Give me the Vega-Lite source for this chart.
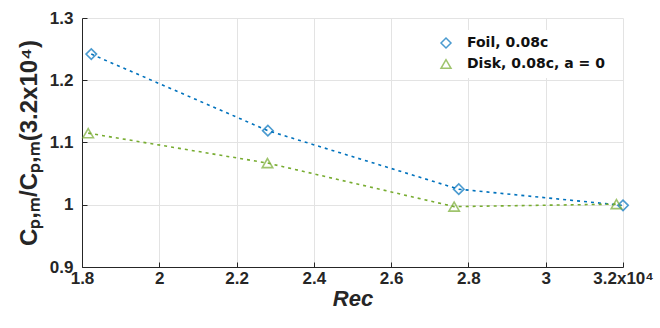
{
  "$schema": "https://vega.github.io/schema/vega-lite/v6.json",
  "width": 541,
  "height": 249,
  "padding": {"left": 17, "top": 9, "right": 0, "bottom": 0},
  "background": "white",
  "config": {
    "view": {"stroke": null},
    "axis": {
      "labelFont": "Liberation Sans",
      "labelFontWeight": "bold",
      "labelFontSize": 17,
      "labelColor": "#262626",
      "titleFont": "Liberation Sans",
      "titleColor": "#262626",
      "titleFontWeight": "bold",
      "titleFontSize": 24,
      "domainColor": "#262626",
      "tickColor": "#262626",
      "tickSize": -5,
      "gridColor": "#e3e3e3"
    }
  },
  "data": {
    "values": [
      {"series": "Foil, 0.08c", "re": 1.824, "cp": 1.242},
      {"series": "Foil, 0.08c", "re": 2.281, "cp": 1.119},
      {"series": "Foil, 0.08c", "re": 2.775, "cp": 1.025},
      {"series": "Foil, 0.08c", "re": 3.2, "cp": 0.999},
      {"series": "Disk, 0.08c, a = 0", "re": 1.816, "cp": 1.115},
      {"series": "Disk, 0.08c, a = 0", "re": 2.28, "cp": 1.067},
      {"series": "Disk, 0.08c, a = 0", "re": 2.763, "cp": 0.997},
      {"series": "Disk, 0.08c, a = 0", "re": 3.183, "cp": 1.001}
    ]
  },
  "encoding": {
    "x": {
      "field": "re", "type": "quantitative",
      "scale": {"domain": [1.8, 3.2], "nice": false, "zero": false},
      "axis": {
        "values": [1.8, 2, 2.2, 2.4, 2.6, 2.8, 3, 3.2],
        "format": "~g",
        "labelExpr": "datum.value == 3.2 ? '3.2x10⁴' : datum.label",
        "title": "Reᴄ",
        "titleFontStyle": "italic",
        "titleFontSize": 22,
        "titlePadding": 2,
        "labelPadding": 8,
        "labelFlush": false
      }
    },
    "y": {
      "field": "cp", "type": "quantitative",
      "scale": {"domain": [0.9, 1.3], "nice": false, "zero": false},
      "axis": {
        "values": [0.9, 1, 1.1, 1.2, 1.3],
        "format": "~g",
        "title": "Cₚ,ₘ/Cₚ,ₘ(3.2x10⁴)",
        "titlePadding": 8,
        "labelPadding": 14
      }
    },
    "color": {
      "field": "series", "type": "nominal",
      "scale": {"domain": ["Foil, 0.08c", "Disk, 0.08c, a = 0"], "range": ["#0072BD", "#77AC30"]},
      "legend": {
        "title": null,
        "orient": "top-right",
        "offset": 12,
        "labelFont": "DejaVu Sans",
        "labelFontWeight": "bold",
        "labelFontSize": 14,
        "labelColor": "#111111",
        "labelOffset": 14,
        "symbolOffset": 18,
        "fillColor": "white",
        "padding": 6,
        "rowPadding": 5,
        "symbolStrokeWidth": 1.5
      }
    }
  },
  "layer": [
    {
      "mark": {"type": "line", "strokeDash": [3, 4], "strokeWidth": 1.6}
    },
    {
      "mark": {"type": "point", "filled": false, "size": 110, "strokeWidth": 1.6},
      "encoding": {
        "shape": {
          "field": "series", "type": "nominal",
          "scale": {"domain": ["Foil, 0.08c", "Disk, 0.08c, a = 0"], "range": ["diamond", "triangle-up"]},
          "legend": {"title": null}
        }
      }
    }
  ]
}
